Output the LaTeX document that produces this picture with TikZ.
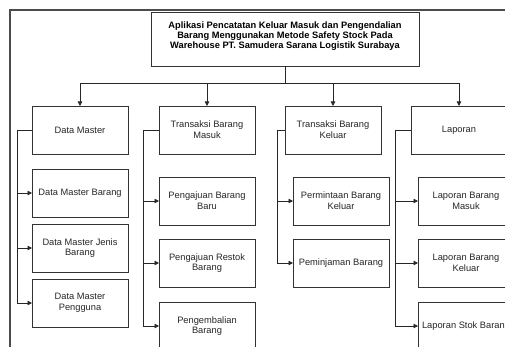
\documentclass[tikz,border=0pt]{standalone}
\usepackage{fontspec}
\setmainfont{Liberation Sans}
\usepackage{xcolor}
\usepackage{tikz}
\usetikzlibrary{arrows.meta, positioning}

\begin{document}
\begin{tikzpicture}[
    x=1pt, y=-1pt,
    menu/.style={draw=black!80, line width=0.9pt, align=center, minimum width=96pt, minimum height=48pt, inner sep=2pt, outer sep=0pt, fill=white, text=black!85, font=\fontsize{9.3}{10.8}\selectfont},
    link/.style={-{Triangle[length=4.5pt, width=4.5pt]}, draw=black!85, line width=0.8pt}
]
\useasboundingbox (0,0) rectangle (505,347);
\clip (0,0) rectangle (505,347);
\draw[black!70, line width=2pt] (10,347) -- (10,10) -- (506,10);

\node[menu, minimum width=268pt, minimum height=54pt,
  label={[anchor=north, yshift=-6pt, align=center, font=\fontsize{9.3}{10}\selectfont\bfseries]north:Aplikasi Pencatatan Keluar Masuk dan Pengendalian\\Barang Menggunakan Metode Safety Stock Pada\\Warehouse PT. Samudera Sarana Logistik Surabaya}] (app) at (285,39) {};

\node[menu] (master) at (80,130) {Data Master};
\node[menu, right=31pt of master] (masuk) {Transaksi Barang\\Masuk};
\node[menu, right=30pt of masuk] (keluar) {Transaksi Barang\\Keluar};
\node[menu, right=30pt of keluar] (laporan) {Laporan};

\node[menu, below=15pt of master] (mbarang) {Data Master Barang};
\node[menu, below=7pt of mbarang] (mjenis) {Data Master Jenis\\Barang};
\node[menu, below=7pt of mjenis] (mpengguna) {Data Master\\Pengguna};

\node[menu, below=23pt of masuk] (ajubaru) {Pengajuan Barang\\Baru};
\node[menu, below=14pt of ajubaru] (ajurestok) {Pengajuan Restok\\Barang};
\node[menu, below=15pt of ajurestok] (kembali) {Pengembalian\\Barang};

\node[menu, below=23pt of keluar, xshift=8pt] (minta) {Permintaan Barang\\Keluar};
\node[menu, below=14pt of minta] (pinjam) {Peminjaman Barang};

\node[menu, below=23pt of laporan, xshift=7pt] (lapmasuk) {Laporan Barang\\Masuk};
\node[menu, below=14pt of lapmasuk] (lapkeluar) {Laporan Barang\\Keluar};
\node[menu, below=15pt of lapkeluar] (lapstok) {Laporan Stok Barang};

\coordinate (bus) at ([yshift=-17pt]app.south);
\draw[draw=black!85, line width=0.8pt] (app.south) -- (bus);
\foreach \m in {master, masuk, keluar, laporan}
  \draw[link] (bus) -| (\m.north);

\foreach \c in {mbarang, mjenis, mpengguna}
  \draw[link] (master.west) -- ++(-15,0) |- (\c.west);
\foreach \c in {ajubaru, ajurestok, kembali}
  \draw[link] (masuk.west) -- ++(-16,0) |- (\c.west);
\foreach \c in {minta, pinjam}
  \draw[link] (keluar.west) -- ++(-8,0) |- (\c.west);
\foreach \c in {lapmasuk, lapkeluar, lapstok}
  \draw[link] (laporan.west) -- ++(-16,0) |- (\c.west);
\end{tikzpicture}
\end{document}
